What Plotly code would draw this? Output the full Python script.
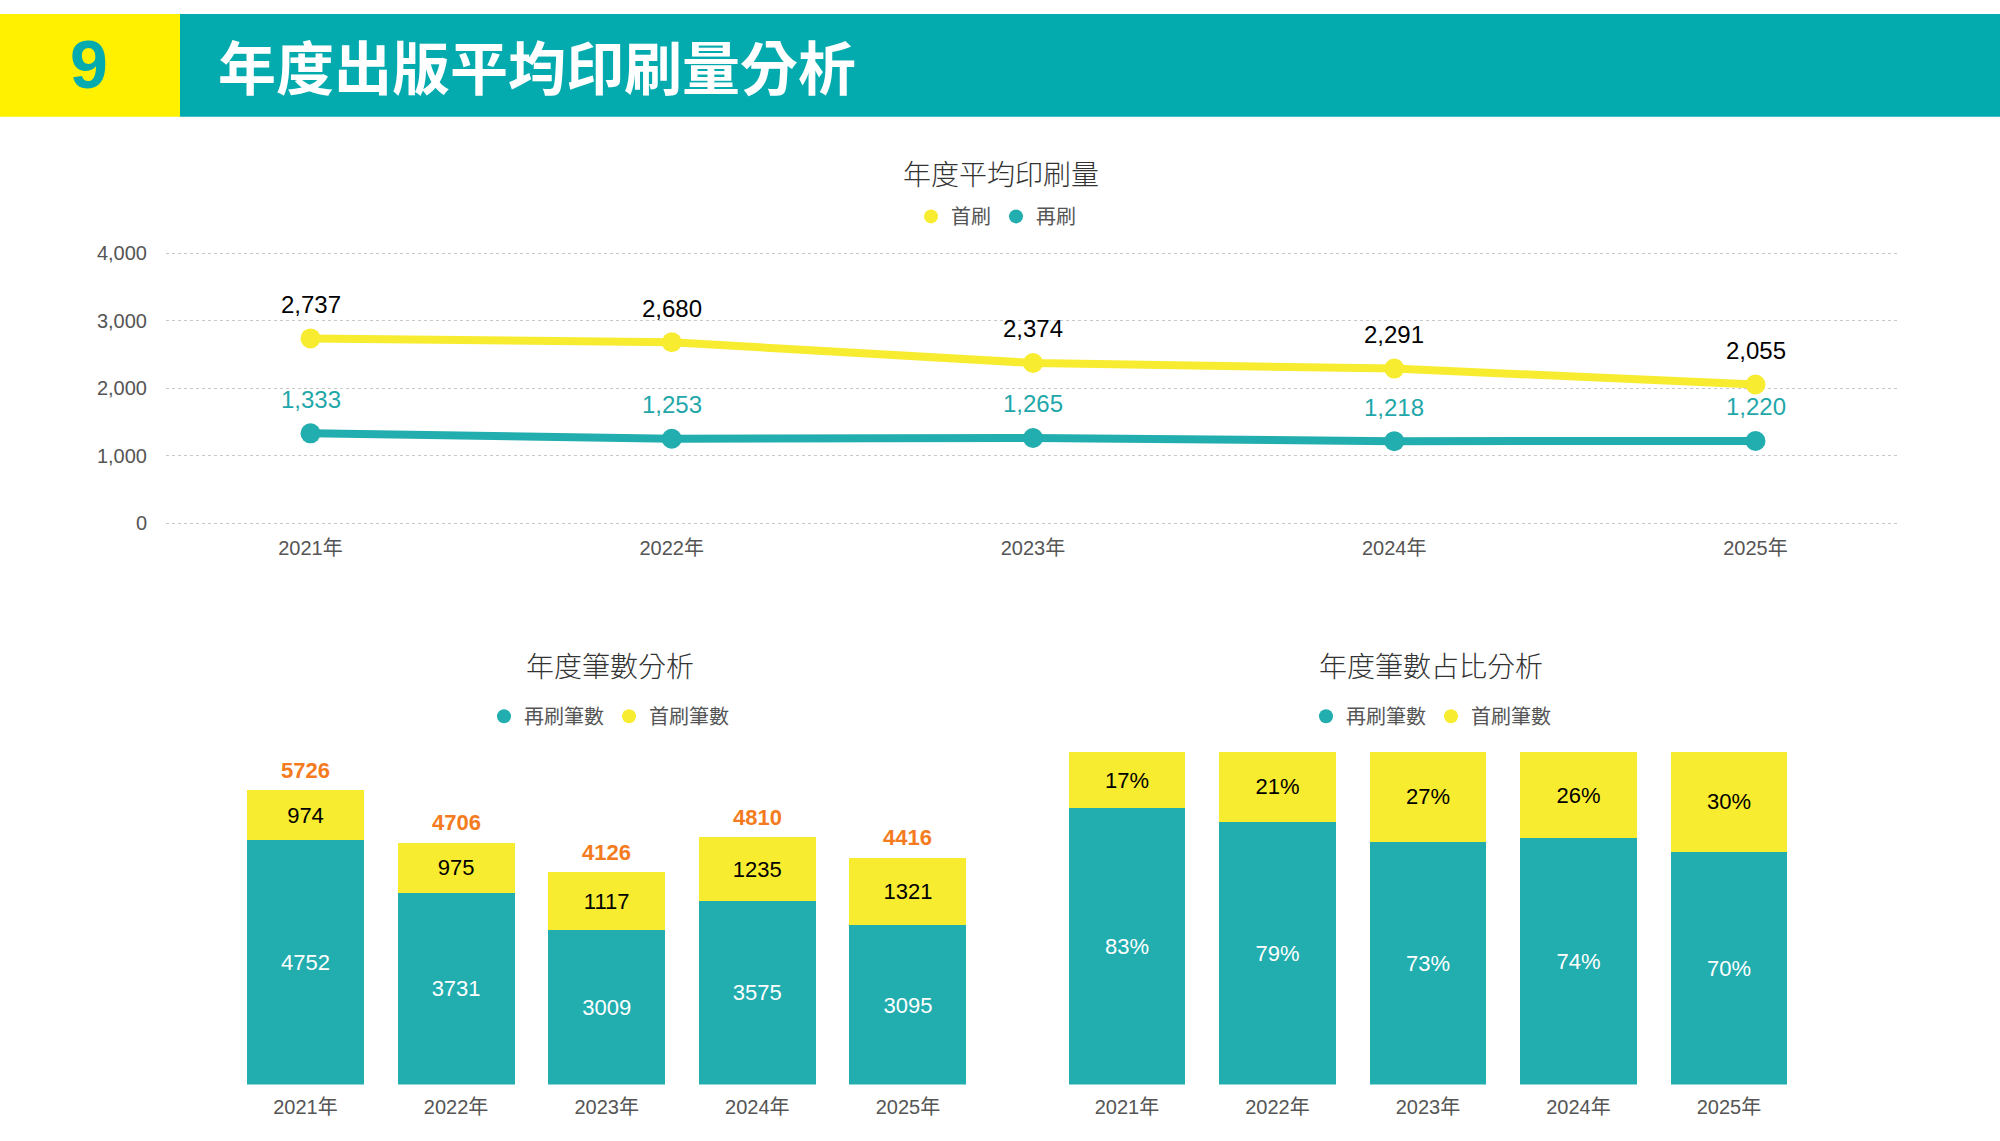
import plotly.graph_objects as go

# ---------------- data ----------------
years = ["2021年", "2022年", "2023年", "2024年", "2025年"]
first_avg = [2737, 2680, 2374, 2291, 2055]      # 首刷 平均印刷量
reprint_avg = [1333, 1253, 1265, 1218, 1220]    # 再刷 平均印刷量
reprint_cnt = [4752, 3731, 3009, 3575, 3095]    # 再刷筆數
first_cnt = [974, 975, 1117, 1235, 1321]        # 首刷筆數
total_cnt = [5726, 4706, 4126, 4810, 4416]      # 合計
reprint_pct = [83, 79, 73, 74, 70]              # 再刷筆數占比 %
first_pct = [17, 21, 27, 26, 30]                # 首刷筆數占比 %
y_ticks = [0, 1000, 2000, 3000, 4000]

# ---------------- style ----------------
W, H = 2000, 1141
TEAL = "#22ADAF"
YELLOW = "#F8EC31"
HEAD_TEAL = "#03AAAE"
HEAD_YELLOW = "#FFF100"
ORANGE = "#F47B20"
FONT = "Liberation Sans, Arial, Noto Sans CJK TC, sans-serif"
CJK = "Noto Sans CJK TC, Liberation Sans, sans-serif"


def px(x):
    return x / W


def py(y):
    return 1 - y / H


fig = go.Figure()

# ---- line chart ----
fig.add_trace(go.Scatter(
    x=years, y=first_avg, mode="lines+markers", name="首刷",
    line=dict(color=YELLOW, width=8), marker=dict(color=YELLOW, size=20),
    cliponaxis=False, showlegend=False, xaxis="x", yaxis="y"))
fig.add_trace(go.Scatter(
    x=years, y=reprint_avg, mode="lines+markers", name="再刷",
    line=dict(color=TEAL, width=8), marker=dict(color=TEAL, size=20),
    cliponaxis=False, showlegend=False, xaxis="x", yaxis="y"))
fig.add_trace(go.Scatter(x=[None], y=[None], mode="markers", name="首刷",
                         marker=dict(color=YELLOW, size=14), legend="legend",
                         xaxis="x", yaxis="y"))
fig.add_trace(go.Scatter(x=[None], y=[None], mode="markers", name="再刷",
                         marker=dict(color=TEAL, size=14), legend="legend",
                         xaxis="x", yaxis="y"))

# ---- stacked count bars ----
fig.add_trace(go.Bar(
    x=years, y=reprint_cnt, name="再刷筆數", marker=dict(color=TEAL, line=dict(width=0)),
    text=[str(v) for v in reprint_cnt], textposition="inside", insidetextanchor="middle",
    textangle=0, textfont=dict(color="white", size=22, family=FONT),
    showlegend=False, xaxis="x2", yaxis="y2"))
fig.add_trace(go.Bar(
    x=years, y=first_cnt, name="首刷筆數", marker=dict(color=YELLOW, line=dict(width=0)),
    text=[str(v) for v in first_cnt], textposition="inside", insidetextanchor="middle",
    textangle=0, textfont=dict(color="black", size=22, family=FONT),
    showlegend=False, xaxis="x2", yaxis="y2"))
fig.add_trace(go.Scatter(x=[None], y=[None], mode="markers", name="再刷筆數",
                         marker=dict(color=TEAL, size=14), legend="legend2",
                         xaxis="x2", yaxis="y2"))
fig.add_trace(go.Scatter(x=[None], y=[None], mode="markers", name="首刷筆數",
                         marker=dict(color=YELLOW, size=14), legend="legend2",
                         xaxis="x2", yaxis="y2"))

# ---- 100% stacked bars ----
fig.add_trace(go.Bar(
    x=years, y=reprint_pct, name="再刷筆數", marker=dict(color=TEAL, line=dict(width=0)),
    text=[f"{v}%" for v in reprint_pct], textposition="inside", insidetextanchor="middle",
    textangle=0, textfont=dict(color="white", size=22, family=FONT),
    showlegend=False, xaxis="x3", yaxis="y3"))
fig.add_trace(go.Bar(
    x=years, y=first_pct, name="首刷筆數", marker=dict(color=YELLOW, line=dict(width=0)),
    text=[f"{v}%" for v in first_pct], textposition="inside", insidetextanchor="middle",
    textangle=0, textfont=dict(color="black", size=22, family=FONT),
    showlegend=False, xaxis="x3", yaxis="y3"))
fig.add_trace(go.Scatter(x=[None], y=[None], mode="markers", name="再刷筆數",
                         marker=dict(color=TEAL, size=14), legend="legend3",
                         xaxis="x3", yaxis="y3"))
fig.add_trace(go.Scatter(x=[None], y=[None], mode="markers", name="首刷筆數",
                         marker=dict(color=YELLOW, size=14), legend="legend3",
                         xaxis="x3", yaxis="y3"))

# ---- value labels (annotations tied to data coordinates) ----
annotations = []
for yr, v in zip(years, first_avg):
    annotations.append(dict(x=yr, y=v, xref="x", yref="y", text=f"{v:,}", showarrow=False,
                            yshift=34, yanchor="middle",
                            font=dict(size=24, color="#000000", family=FONT)))
for yr, v in zip(years, reprint_avg):
    annotations.append(dict(x=yr, y=v, xref="x", yref="y", text=f"{v:,}", showarrow=False,
                            yshift=34, yanchor="middle",
                            font=dict(size=24, color="#1FA7AA", family=FONT)))
for yr, v in zip(years, total_cnt):
    annotations.append(dict(x=yr, y=v, xref="x2", yref="y2", text=f"<b>{v}</b>", showarrow=False,
                            yshift=20, yanchor="middle",
                            font=dict(size=22, color=ORANGE, family=FONT)))

tickfont = dict(size=20, color="#555555", family=FONT)
title_font = dict(size=28, color="#333333", family=CJK, weight=300)

legend_common = dict(orientation="h", xanchor="center", yanchor="middle",
                     font=dict(size=20, color="#555555", family=CJK),
                     itemwidth=30, bgcolor="rgba(0,0,0,0)", traceorder="normal")

annotations += [
    dict(text="<b>9</b>", x=px(89), y=py(58), xref="paper", yref="paper",
         xanchor="center", yanchor="middle", showarrow=False,
         font=dict(size=68, color=HEAD_TEAL, family=FONT)),
    dict(text="<b>年度出版平均印刷量分析</b>", x=px(216), y=py(59), xref="paper", yref="paper",
         xanchor="left", yanchor="middle", showarrow=False,
         font=dict(size=58, color="white", family=CJK)),
    dict(text="年度平均印刷量", x=px(1001), y=py(168), xref="paper", yref="paper",
         xanchor="center", yanchor="middle", showarrow=False, font=title_font),
    dict(text="年度筆數分析", x=px(610), y=py(666), xref="paper", yref="paper",
         xanchor="center", yanchor="middle", showarrow=False, font=title_font),
    dict(text="年度筆數占比分析", x=px(1431), y=py(666), xref="paper", yref="paper",
         xanchor="center", yanchor="middle", showarrow=False, font=title_font),
]

fig.update_layout(
    width=W, height=H,
    margin=dict(l=0, r=0, t=0, b=0),
    paper_bgcolor="white", plot_bgcolor="white",
    font=dict(family=FONT),
    barmode="stack", bargap=0.223,
    xaxis=dict(domain=[px(166), px(1900)], type="category", range=[-0.4, 4.4],
               showgrid=False, zeroline=False, showline=False,
               ticks="outside", ticklen=2, tickcolor="rgba(0,0,0,0)", tickfont=tickfont),
    yaxis=dict(domain=[py(527), py(245)], range=[-60, 4060], tickvals=y_ticks,
               tickformat=",", showgrid=True, gridcolor="#C8C8C8", griddash="dot",
               gridwidth=1, zeroline=False, showline=False,
               ticks="outside", ticklen=14, tickcolor="rgba(0,0,0,0)", tickfont=tickfont),
    xaxis2=dict(domain=[px(230.2), px(983.2)], type="category", anchor="y2",
                showgrid=False, zeroline=False, showline=False,
                ticks="outside", ticklen=4, tickcolor="rgba(0,0,0,0)", tickfont=tickfont),
    yaxis2=dict(domain=[py(1091), py(778.7)], range=[0, 6000], anchor="x2",
                visible=False),
    xaxis3=dict(domain=[px(1051.75), px(1804.25)], type="category", anchor="y3",
                showgrid=False, zeroline=False, showline=False,
                ticks="outside", ticklen=4, tickcolor="rgba(0,0,0,0)", tickfont=tickfont),
    yaxis3=dict(domain=[py(1091), py(754)], range=[0, 100], anchor="x3",
                visible=False),
    legend=dict(x=px(996), y=py(212), **legend_common),
    legend2=dict(x=px(609), y=py(718), **legend_common),
    legend3=dict(x=px(1431), y=py(718), **legend_common),
    shapes=[
        dict(type="rect", xref="paper", yref="paper", x0=0, x1=px(180),
             y0=py(111), y1=py(7), fillcolor=HEAD_YELLOW, line=dict(width=0), layer="below"),
        dict(type="rect", xref="paper", yref="paper", x0=px(180), x1=1,
             y0=py(111), y1=py(7), fillcolor=HEAD_TEAL, line=dict(width=0), layer="below"),
    ],
    annotations=annotations,
)

fig.write_html("out.html", config={"displayModeBar": False},
               post_script="document.body.style.margin='0px';document.body.style.overflow='hidden';")
